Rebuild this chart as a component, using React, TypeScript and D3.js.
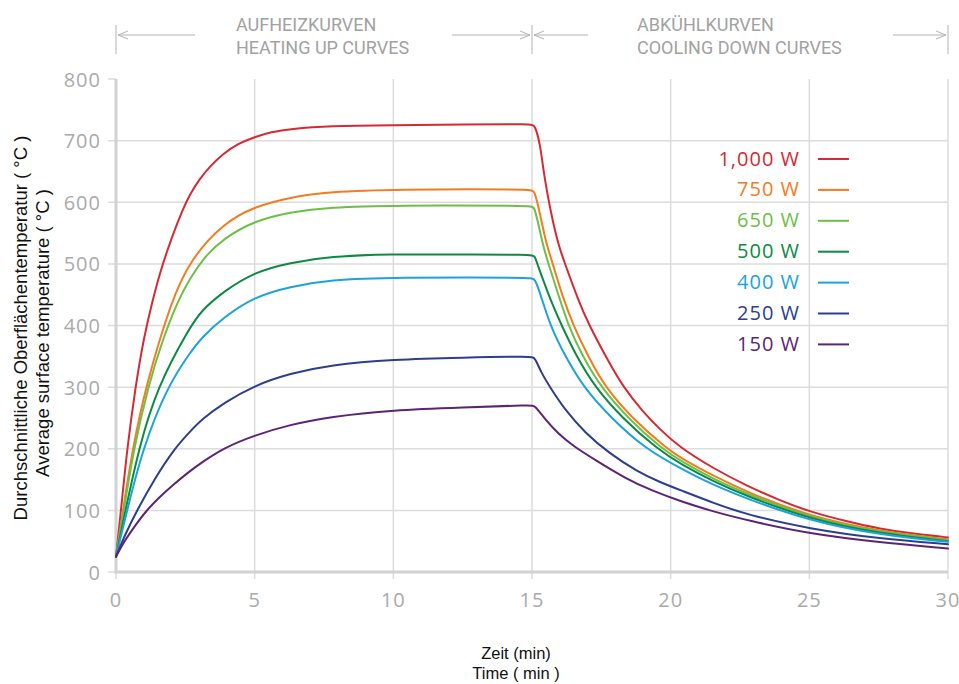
import React from 'react';
import * as d3 from 'd3';

const xTicks = [0, 5, 10, 15, 20, 25, 30];
const yTicks = [0, 100, 200, 300, 400, 500, 600, 700, 800];
const gridY = [100, 200, 300, 400, 500, 600, 700];

const legendLabels = ['1,000 W', '750 W', '650 W', '500 W', '400 W', '250 W', '150 W'];
const colors = ['#d52a33', '#f47b20', '#6dbf46', '#0b8a43', '#1ba3dd', '#2c3e8e', '#5c2475'];

const w1000: [number, number][] = [
  [0, 25], [0.18, 100], [0.4, 200], [0.7, 300], [1.0, 380], [1.32, 441], [1.6, 488], [2.0, 542], [2.4, 588],
  [2.67, 613], [3.0, 637], [3.4, 659], [3.87, 679], [4.4, 695], [5, 706], [5.6, 714], [6.27, 719], [7.7, 724],
  [10, 725], [12.5, 726], [15, 727],
  [15.1, 725], [15.29, 696], [15.41, 652], [15.53, 620], [15.71, 577], [15.95, 531], [16.19, 500], [16.67, 441],
  [17.03, 403], [17.75, 342], [18.29, 300], [19.0, 260], [19.6, 232], [20.3, 203], [21.54, 168], [22.74, 140],
  [23.94, 116], [25, 98], [26.35, 82], [27.55, 70], [28.75, 62], [30, 56],
];
const w750: [number, number][] = [
  [0, 25], [0.25, 100], [0.6, 200], [1.06, 300], [2.0, 441], [2.67, 506], [3.87, 566], [5, 593], [6.27, 608],
  [7.7, 617], [10, 621], [15, 621],
  [15.08, 619], [15.23, 593], [15.41, 555], [15.53, 531], [15.75, 500], [16.1, 447], [16.49, 400], [17.0, 352],
  [17.63, 300], [18.6, 250], [19.86, 200], [20.4, 184], [21.54, 156], [22.74, 130], [25, 90], [27.55, 66], [30, 53],
];
const w650: [number, number][] = [
  [0, 25], [0.28, 100], [0.64, 200], [1.15, 300], [1.7, 380], [2.24, 441], [2.67, 477], [3.2, 512], [3.87, 541],
  [5, 570], [6.27, 584], [7.7, 592], [10, 595], [15, 595],
  [15.08, 592], [15.2, 571], [15.39, 531], [15.59, 500], [15.95, 450], [16.31, 400], [16.8, 352], [17.48, 300],
  [18.45, 250], [19.68, 200], [20.4, 179], [21.54, 151], [22.74, 127], [25, 88], [27.55, 64], [30, 52],
];
const w500: [number, number][] = [
  [0, 25], [0.34, 100], [0.82, 200], [1.48, 300], [2.67, 398], [3.1, 425], [3.87, 455], [5, 487], [6.27, 502],
  [7.7, 512], [10, 516], [12, 515], [15, 515],
  [15.1, 513], [15.19, 500], [15.45, 468], [15.7, 438], [16.07, 400], [16.6, 350], [17.27, 300], [18.25, 250],
  [19.5, 200], [20.4, 174], [21.54, 147], [22.74, 123], [25, 86], [27.55, 62], [30, 50],
];
const w400: [number, number][] = [
  [0, 25], [0.4, 100], [0.96, 200], [1.84, 300], [2.67, 356], [3.1, 381], [3.87, 413], [5, 447], [6.27, 463],
  [7.7, 474], [10, 478], [15, 478],
  [15.1, 476], [15.3, 452], [15.65, 400], [16.2, 350], [16.85, 300], [17.85, 250], [19.08, 200], [20.4, 167],
  [21.54, 141], [22.74, 119], [25, 83], [27.55, 60], [30, 49],
];
const w250: [number, number][] = [
  [0, 25], [0.35, 63], [0.76, 100], [1.4, 152], [2.1, 200], [2.67, 228], [3.1, 248], [3.87, 274], [5, 303],
  [6.27, 322], [7.7, 336], [10, 345], [12.5, 348], [15, 350],
  [15.1, 348], [15.35, 322], [15.65, 300], [16.19, 263], [16.91, 226], [17.8, 192], [18.8, 163], [19.6, 146],
  [20.4, 132], [21.54, 112], [22.74, 93], [25, 70], [27.55, 54], [30, 45],
];
const w150: [number, number][] = [
  [0, 25], [0.3, 50], [0.7, 76], [1.1, 100], [1.6, 123], [2.1, 143], [2.67, 164], [3.1, 178], [3.87, 201],
  [5, 222], [6.27, 239], [7.7, 252], [10, 263], [12.5, 267], [15, 271],
  [15.1, 270], [15.47, 248], [15.95, 224], [16.5, 204], [17.27, 182], [18.36, 152], [19.32, 132], [20.4, 114],
  [21.54, 98], [22.74, 84], [25, 62], [27.55, 48], [30, 38],
];

const seriesData = [w1000, w750, w650, w500, w400, w250, w150];

const W = 959;
const H = 684;
const X0 = 116;
const X1 = 948;
const Y0 = 572;
const Y1 = 79;

const tickFont = "'Open Sans', sans-serif";
const titleFont = "'Liberation Sans', Arial, sans-serif";
const headFont = "Roboto, sans-serif";

function Arrow({ x1, x2, y, dir }: { x1: number; x2: number; y: number; dir: 'l' | 'r' }) {
  const tip = dir === 'l' ? x1 : x2;
  const back = dir === 'l' ? tip + 10 : tip - 10;
  return (
    <g stroke="#b4b4b4" strokeWidth={1} fill="none">
      <line x1={x1} x2={x2} y1={y} y2={y} />
      <polyline points={`${back},${y - 4} ${tip},${y} ${back},${y + 4}`} />
    </g>
  );
}

export default function App() {
  const x = d3.scaleLinear().domain([0, 30]).range([X0, X1]);
  const y = d3.scaleLinear().domain([0, 800]).range([Y0, Y1]);
  const line = d3
    .line<[number, number]>()
    .x((d) => x(d[0]))
    .y((d) => y(d[1]))
    .curve(d3.curveBasis);

  const legendX = 800;
  const legendY0 = 158;
  const legendStep = 30.9;

  return (
    <svg
      width={W}
      height={H}
      viewBox={`0 0 ${W} ${H}`}
      style={{ position: 'absolute', left: 0, top: 0, background: '#fff' }}
    >
      <rect x={0} y={0} width={W} height={H} fill="#fff" />

      {/* header */}
      <g stroke="#b4b4b4" strokeWidth={1}>
        <line x1={x(0)} x2={x(0)} y1={25} y2={54} />
        <line x1={x(15)} x2={x(15)} y1={25} y2={54} />
        <line x1={x(30)} x2={x(30)} y1={25} y2={54} />
      </g>
      <Arrow x1={x(0) + 2} x2={195} y={35} dir="l" />
      <Arrow x1={452} x2={x(15) - 2} y={35} dir="r" />
      <Arrow x1={x(15) + 2} x2={588} y={35} dir="l" />
      <Arrow x1={893} x2={x(30) - 2} y={35} dir="r" />
      <g fontFamily={headFont} fontSize={18} fill="#a2a2a2">
        <text x={236} y={31}>AUFHEIZKURVEN</text>
        <text x={236} y={54}>HEATING UP CURVES</text>
        <text x={637} y={31}>ABKÜHLKURVEN</text>
        <text x={637} y={54}>COOLING DOWN CURVES</text>
      </g>

      {/* grid */}
      <g stroke="#dcdcdc" strokeWidth={1.5}>
        {gridY.map((v) => (
          <line key={'gy' + v} x1={X0 - 8} x2={X1} y1={y(v)} y2={y(v)} />
        ))}
        <line x1={X0 - 8} x2={X0} y1={y(800)} y2={y(800)} />
        {xTicks.filter((v) => v > 0).map((v) => (
          <line key={'gx' + v} x1={x(v)} x2={x(v)} y1={Y1} y2={Y0 + 7} />
        ))}
        <line x1={X0} x2={X0} y1={Y0} y2={Y0 + 7} />
        <line x1={X0 - 8} x2={X0} y1={Y0} y2={Y0} />
      </g>
      {/* axes */}
      <g stroke="#d2d2d2" strokeWidth={3}>
        <line x1={X0} x2={X0} y1={Y1} y2={Y0 + 1.5} />
        <line x1={X0 - 1.5} x2={X1} y1={Y0} y2={Y0} />
      </g>

      {/* tick labels */}
      <g fontFamily={tickFont} fontSize={20} fill="#aaaaaa" letterSpacing={1}>
        {yTicks.map((v) => (
          <text key={'yl' + v} x={101} y={y(v)} textAnchor="end" dominantBaseline="central">
            {v}
          </text>
        ))}
        {xTicks.map((v) => (
          <text key={'xl' + v} x={x(v)} y={599} textAnchor="middle" dominantBaseline="central">
            {v}
          </text>
        ))}
      </g>

      {/* curves */}
      <g fill="none" strokeWidth={2} strokeLinejoin="round" strokeLinecap="round">
        {seriesData.map((d, i) => (
          <path key={'s' + i} d={line(d) || ''} stroke={colors[i]} />
        ))}
      </g>

      {/* legend */}
      <g fontFamily={tickFont} fontSize={20} letterSpacing={1}>
        {legendLabels.map((lab, i) => {
          const ly = legendY0 + i * legendStep;
          return (
            <g key={'lg' + i}>
              <text x={legendX} y={ly} textAnchor="end" dominantBaseline="central" fill={colors[i]}>
                {lab}
              </text>
              <line x1={818} x2={849} y1={ly + 1} y2={ly + 1} stroke={colors[i]} strokeWidth={2} />
            </g>
          );
        })}
      </g>

      {/* axis titles */}
      <g fontFamily={titleFont} fill="#111" textAnchor="middle">
        <text fontSize={18.5} transform={`translate(27, 328) rotate(-90)`}>Durchschnittliche Oberflächentemperatur ( °C )</text>
        <text fontSize={18.5} transform={`translate(49, 333) rotate(-90)`}>Average surface temperature ( °C )</text>
        <text fontSize={16.5} x={516} y={659}>Zeit (min)</text>
        <text fontSize={16.5} x={516} y={679}>Time ( min )</text>
      </g>
    </svg>
  );
}
